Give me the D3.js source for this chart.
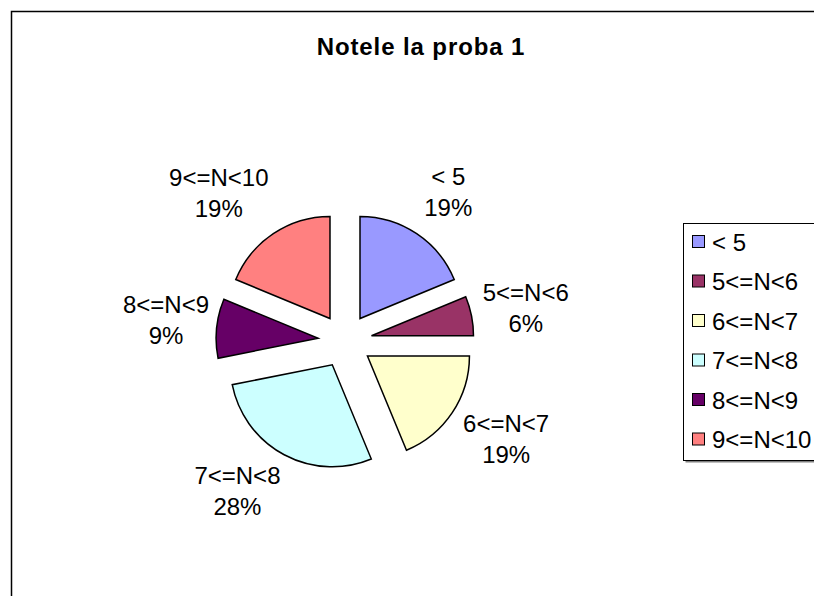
<!DOCTYPE html>
<html><head><meta charset="utf-8">
<script src="https://cdn.jsdelivr.net/npm/d3@7"></script>
<style>body{margin:0;background:#fff}svg{display:block;font-family:"Liberation Sans",Arial,sans-serif}</style>
</head><body>
<svg id="c" width="814" height="596"></svg>
<script>
const title = "Notele la proba 1";
const categories = ["< 5","5<=N<6","6<=N<7","7<=N<8","8<=N<9","9<=N<10"];
const counts = [6,2,6,9,3,6];
const percentLabels = ["19%","6%","19%","28%","9%","19%"];
const colors = ["#9999FF","#993366","#FFFFCC","#CCFFFF","#660066","#FF8080"];
// layout-only nudges for data labels (px)
const labelNudge = [[6,-1],[0,6],[4,-4],[-21,-9],[2,0],[-21,12]];

const svg = d3.select("#c");
svg.append("rect").attr("x",11.5).attr("y",11.5).attr("width",1000).attr("height",1000)
  .attr("fill","#fff").attr("stroke","#000").attr("stroke-width",1.5);

svg.append("text").attr("x",421).attr("y",55).attr("text-anchor","middle")
  .attr("font-size",24).attr("font-weight","bold").attr("letter-spacing",0.9).text(title);

const cx = 345, cy = 341, r = 102, explode = 27, gap = 7, fs = 24, lineH = 31;
const pie = d3.pie().sort(null).value(d=>d);
const arcs = pie(counts);
const arc = d3.arc().innerRadius(0).outerRadius(r);
const g = svg.append("g").attr("transform",`translate(${cx},${cy})`);
arcs.forEach((a,i)=>{
  const m = (a.startAngle+a.endAngle)/2;
  const dx = Math.sin(m)*explode, dy = -Math.cos(m)*explode;
  g.append("path").attr("d",arc(a)).attr("transform",`translate(${dx},${dy})`)
    .attr("fill",colors[i]).attr("stroke","#000").attr("stroke-width",1.5).attr("stroke-linejoin","miter");
});
arcs.forEach((a,i)=>{
  const m = (a.startAngle+a.endAngle)/2;
  const s = Math.sin(m), c = -Math.cos(m);
  const t = g.append("text").attr("font-size",fs).attr("text-anchor","middle");
  const t1 = t.append("tspan").attr("x",0).text(categories[i]);
  const t2 = t.append("tspan").attr("x",0).attr("dy",lineH).text(percentLabels[i]);
  const w = Math.max(t1.node().getComputedTextLength(), t2.node().getComputedTextLength());
  const h = lineH*2;
  const ext = (w/2)*Math.abs(s) + (h/2)*Math.abs(c);
  const dist = r + explode + ext + gap;
  const bx = s*dist + labelNudge[i][0], by = c*dist + labelNudge[i][1];
  t.attr("transform",`translate(${bx},${by - h/2 + fs*0.72 + 4})`);
});
const lx = 683.5, ly = 223.5, lh = 237;
svg.append("rect").attr("x",lx+2).attr("y",ly+2).attr("width",300).attr("height",lh).attr("fill","#808080");
svg.append("rect").attr("x",lx).attr("y",ly).attr("width",300).attr("height",lh).attr("fill","#fff").attr("stroke","#000").attr("stroke-width",1);
const ly0 = 242, lstep = 39.5;
categories.forEach((cat,i)=>{
  const yy = ly0 + i*lstep;
  svg.append("rect").attr("x",692.5).attr("y",yy-6.5).attr("width",12).attr("height",12)
    .attr("fill",colors[i]).attr("stroke","#000").attr("stroke-width",1);
  svg.append("text").attr("x",712).attr("y",yy+8.5).attr("font-size",fs).text(cat);
});
</script>
</body></html>
